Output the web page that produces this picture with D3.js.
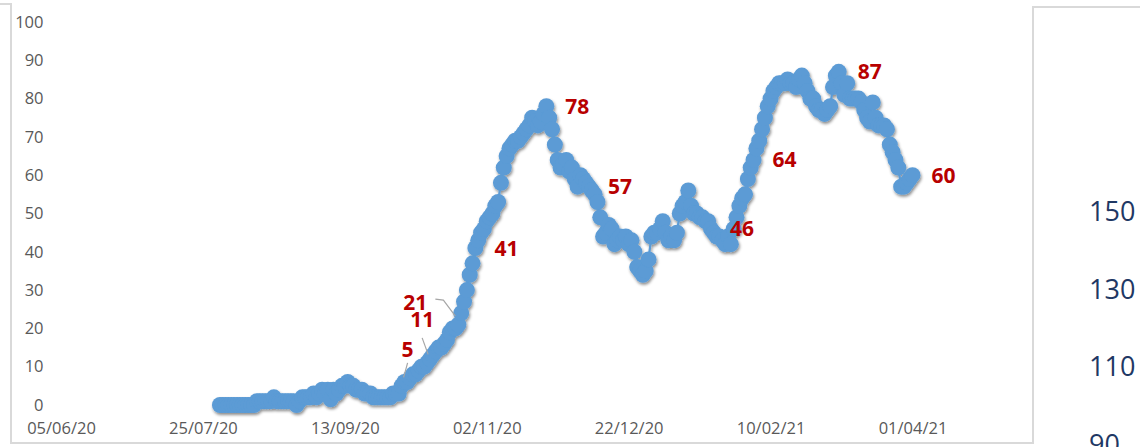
<!DOCTYPE html>
<html>
<head>
<meta charset="utf-8">
<script src="https://cdn.jsdelivr.net/npm/d3@7"></script>
<style>
  body { margin: 0; background: #fff; }
  svg { display: block; font-family: "Open Sans", sans-serif; }
</style>
</head>
<body>
<script>
// daily values, first one is 31/07/20
const firstDay = "31/07/20";
const values = [
  0,0,0,0,0,0,0,0,0,0,0,0,0,
  1,1,1,1,1,1,2,
  1,1,1,1,1,1,1,0,1,
  2,2,2,2,3,2,3,
  4,3,4,1.5,4,3,
  4,5,5,6,
  5,5,4,4,4,3,
  3,3,2,2,2,2,2,2,2,3,3,3,
  5,
  6,6,7,8,8,9,10,10,
  11,
  12,13,14,15,15,16,17,19,20,20,
  21,
  24,27,30,34,37,
  41,
  43,45,46,48,49,50,52,53,
  58,62,65,67,68,69,69,70,71,72,73,75,74,73,74,76,
  78,
  75,72,68,64,62,63,64,61,62,59,57,60,59,58,
  57,
  56,55,53,49,44,45,47,46,42,43,44,43,44,
  42,43,40,36,35,34,35,38,44,45,45,46,48,45,43,44,43,45,50,52,53,56,52,50,50,49,49,48,48,
  46,
  45,44,44,43,42,44,42,46,49,52,54,55,59,62,
  64,
  67,69,72,75,78,80,82,83,84,84,84,85,84,84,83,85,86,84,82,80,80,78,77,77,76,77,78,83,86,
  87,
  84,81,84,80,80,80,80,79,77,75,74,79,75,73,73,73,72,68,66,64,62,57,57,58,59,
  60
];

const xTickLabels = ["05/06/20", "25/07/20", "13/09/20", "02/11/20", "22/12/20", "10/02/21", "01/04/21"];
const yTicks = [0, 10, 20, 30, 40, 50, 60, 70, 80, 90, 100];

// data labels
const labelDays = ["03/10/20", "12/10/20", "23/10/20", "29/10/20", "23/11/20", "08/12/20", "20/01/21", "04/02/21", "06/03/21", "01/04/21"];
const labelTexts = ["5", "11", "21", "41", "78", "57", "46", "64", "87", "60"];

// axis of the next chart, cut by the right edge
const sideTicks = [150, 130, 110, 90];

const W = 1140, H = 447;
const parse = d3.timeParse("%d/%m/%y");
const fmt = d3.timeFormat("%d/%m/%y");

const start = parse(firstDay);
const points = values.map((v, i) => ({ date: d3.timeDay.offset(start, i), value: v }));
const tickDates = xTickLabels.map(parse);

const svg = d3.select("body").append("svg")
  .attr("width", W)
  .attr("height", H);

const defs = svg.append("defs");
const f = defs.append("filter").attr("id", "shadow")
  .attr("x", "-10%").attr("y", "-10%").attr("width", "120%").attr("height", "130%");
f.append("feDropShadow")
  .attr("dx", 1).attr("dy", 2).attr("stdDeviation", 1.6)
  .attr("flood-color", "#000").attr("flood-opacity", 0.45);

// frames
const frame = svg.append("g").attr("fill", "none").attr("stroke", "#d9d9d9").attr("stroke-width", 2);
frame.append("path").attr("d", "M0,4H11V443H1033V7H1140");

const x = d3.scaleTime().domain([tickDates[0], tickDates[tickDates.length - 1]]).range([61, 912.5]);
const y = d3.scaleLinear().domain([0, 100]).range([405, 22]);

// x axis
const gx = svg.append("g")
  .attr("transform", "translate(0,428.5)")
  .call(d3.axisBottom(x).tickValues(tickDates).tickFormat(fmt).tickSize(0).tickPadding(0));
gx.select(".domain").remove();
gx.selectAll("text")
  .attr("dy", "0.35em")
  .attr("fill", "#595959")
  .attr("font-size", "16.5px")
  .attr("font-family", "Open Sans, sans-serif");

// y axis
const gy = svg.append("g")
  .attr("transform", "translate(43.5,0)")
  .call(d3.axisLeft(y).tickValues(yTicks).tickSize(0).tickPadding(0));
gy.select(".domain").remove();
gy.selectAll("text")
  .attr("fill", "#595959")
  .attr("font-size", "16.5px")
  .attr("font-family", "Open Sans, sans-serif");

// series
const series = svg.append("g").attr("filter", "url(#shadow)");
series.append("path")
  .datum(points)
  .attr("fill", "none")
  .attr("stroke", "#5B9BD5")
  .attr("stroke-width", 2.25)
  .attr("d", d3.line().x(d => x(d.date)).y(d => y(d.value)));
series.selectAll("circle")
  .data(points)
  .enter()
  .append("circle")
  .attr("cx", d => x(d.date))
  .attr("cy", d => y(d.value))
  .attr("r", 8)
  .attr("fill", "#5B9BD5");

// labels: first three are moved away and have leader lines
const moved = {
  "5":  { dx: 0,   dy: -29, leader: [[6, -23], [2, -8.5]] },
  "11": { dx: -17, dy: -36, leader: [[-5, -25], [1, -8.5]] },
  "21": { dx: -55, dy: -15, leader: [[-23, -25.5], [-15, -24.5], [-3, -8.5]] }
};

const labels = svg.append("g");
labelDays.forEach((ds, i) => {
  const d = parse(ds);
  const p = points.find(q => +q.date === +d);
  const px = x(d), py = y(p ? p.value : +labelTexts[i]);
  const t = labelTexts[i];
  const m = moved[t];
  if (m) {
    labels.append("path")
      .attr("d", d3.line()(m.leader.map(([a, b]) => [px + a, py + b])))
      .attr("fill", "none")
      .attr("stroke", "#a6a6a6")
      .attr("stroke-width", 1.2);
  }
  labels.append("text")
    .attr("x", m ? px + m.dx : px + 19)
    .attr("y", m ? py + m.dy : py)
    .attr("dy", m ? 0 : "0.36em")
    .attr("fill", "#B80000")
    .attr("font-weight", "bold")
    .attr("font-size", "21px")
    .text(t);
});

// the neighbouring chart's axis labels
const ySide = d3.scaleLinear().domain([90, 150]).range([444, 211.5]);
svg.append("g").selectAll("text")
  .data(sideTicks)
  .enter()
  .append("text")
  .attr("x", 1089)
  .attr("y", d => ySide(d))
  .attr("dy", "0.36em")
  .attr("fill", "#1F3864")
  .attr("font-size", "27px")
  .text(d => d);
</script>
</body>
</html>
